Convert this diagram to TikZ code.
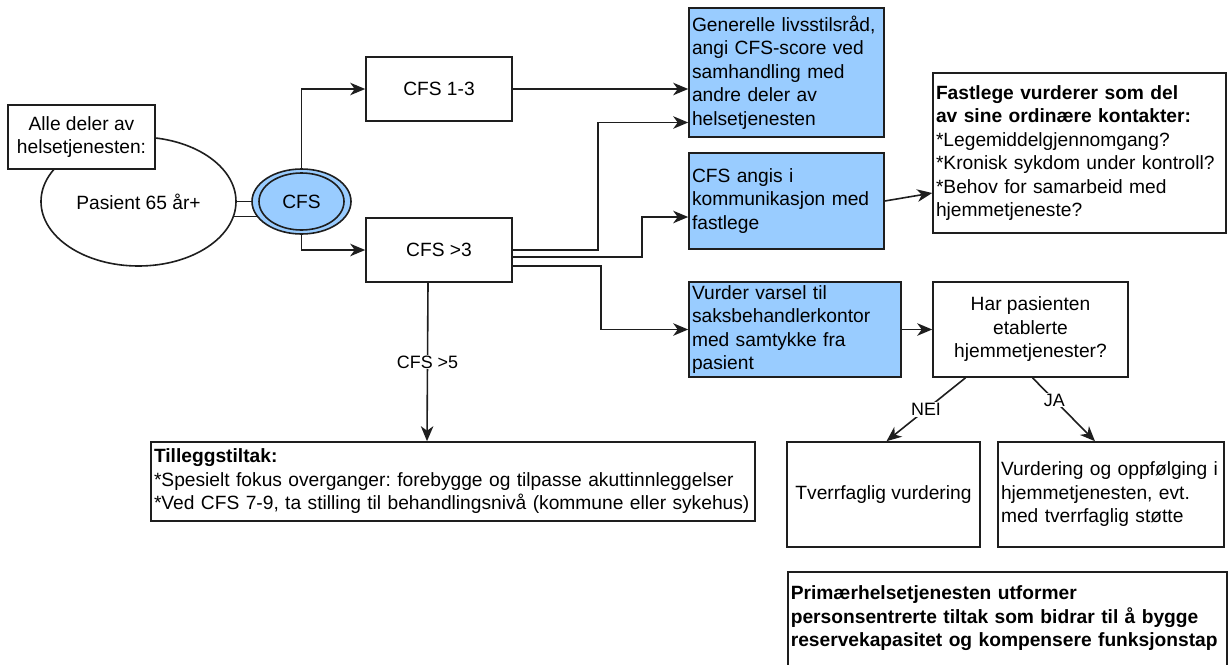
\documentclass[tikz,border=0pt]{standalone}
\usepackage{fontspec}
\setmainfont{Liberation Sans}
\usetikzlibrary{calc}
\usetikzlibrary{arrows.meta}
\usetikzlibrary{shapes.geometric}
\definecolor{cfsblue}{HTML}{99CCFF}
\definecolor{linegray}{HTML}{1E1E1E}
\tikzset{
	box/.style={draw=linegray,line width=1.6pt,fill=white,inner sep=0pt,align=center},
	textbox/.style={box,align=left,inner xsep=3pt},
	bluebox/.style={textbox,fill=cfsblue},
	flow/.style={draw=linegray,line width=1.6pt,-{Stealth[length=15pt,width=12.5pt,inset=4.5pt]}},
	lbl/.style={fill=white,inner sep=1pt,font=\fontsize{17.9}{21}\selectfont}
}

\begin{document}
\frenchspacing
\begin{tikzpicture}[x=1pt,y=-1pt,font=\fontsize{19.2}{23.5}\selectfont]
	\useasboundingbox (0,0) rectangle (1230,664);
	\clip (0,0) rectangle (1230,664);
	\coordinate (pasc) at (138.5,201.5);
	\coordinate (cfsc) at (301.5,201.5);
	% patient and the two CFS groups
	\node[box,ellipse,minimum width=195pt,minimum height=129pt] (pas) at (pasc) {Pasient 65 år+};
	\node[box,minimum width=147pt,minimum height=64pt] (alle) at (81.5,137) {Alle deler av\\helsetjenesten:};
	\node[box,minimum width=146pt,minimum height=64pt] (c13) at (439,89) {CFS 1-3};
	\node[box,minimum width=146pt,minimum height=64pt] (cgt3) at (439,250) {CFS >3};
	\draw[flow] (pas.east) -| (cfsc) |- (c13.west);
	\draw[flow] (pas.-9) -| (cfsc) |- (cgt3.west);
	\node[box,ellipse,fill=cfsblue,minimum width=99pt,minimum height=65pt] (cfs) at (cfsc) {CFS};
	\node[draw=linegray,line width=1.6pt,ellipse,minimum width=85pt,minimum height=57pt] (cfsin) at (cfsc) {};
	% measures
	\node[bluebox,text width=189pt,minimum height=129pt] (gen) at (786.5,72.5) {Generelle livsstilsråd,\\angi CFS-score ved\\samhandling med\\andre deler av\\helsetjenesten};
	\node[bluebox,text width=189pt,minimum height=96pt] (fcom) at (786.5,201) {CFS angis i\\kommunikasjon med\\fastlege};
	\node[bluebox,text width=206pt,minimum height=95pt] (varsel) at (795,329.5) {Vurder varsel til\\saksbehandlerkontor\\med samtykke fra\\pasient};
	\node[textbox,text width=287pt,minimum height=160pt] (fl) at (1079.5,153) {\textbf{Fastlege vurderer som del}\\\textbf{av sine ordinære kontakter:}\\{}*Legemiddelgjennomgang?\\{}*Kronisk sykdom under kontroll?\\{}*Behov for samarbeid med\\hjemmetjeneste?};
	\node[box,minimum width=195pt,minimum height=95pt] (har) at (1030.5,329.5) {Har pasienten\\etablerte\\hjemmetjenester?};
	\node[box,minimum width=193pt,minimum height=105pt] (tverr) at (883.5,494.5) {Tverrfaglig vurdering};
	\node[textbox,text width=220pt,minimum height=105pt] (vurd) at (1111,494.5) {Vurdering og oppfølging i\\hjemmetjenesten, evt.\\med tverrfaglig støtte};
	\node[textbox,text width=598pt,minimum height=79pt] (till) at (453,481.5) {\textbf{Tilleggstiltak:}\\{}*Spesielt fokus overganger: forebygge og tilpasse akuttinnleggelser\\{}*Ved CFS 7-9, ta stilling til behandlingsnivå (kommune eller sykehus)};
	\node[textbox,anchor=north west,text width=433pt,inner ysep=14pt,text depth=120pt] (prim) at (787,571) {\bfseries Primærhelsetjenesten utformer\\personsentrerte tiltak som bidrar til å bygge\\reservekapasitet og kompensere funksjonstap};
	% connectors
	\draw[flow] (c13.east) -- (c13.east -| gen.west);
	\draw[flow] (cgt3.east) -- ++(85,0) |- ($(gen.west)+(0,50)$);
	\draw[flow] ($(cgt3.east)+(0,7)$) -- ++(129,0) |- ($(fcom.west)+(0,16)$);
	\draw[flow] ($(cgt3.east)+(0,16)$) -- ++(88,0) |- (varsel.west);
	\draw[flow] (fcom.east) -- ($(fl.west)+(0,40)$);
	\draw[flow] (varsel.east) -- (har.west);
	\draw[flow] ($(har.south)+(-65,0)$) -- node[lbl] {NEI} ($(tverr.north)+(3,0)$);
	\draw[flow] ($(har.south)+(2,0)$) -- node[lbl,pos=0.35] {JA} ($(vurd.north)+(-16,0)$);
	\draw[flow] ($(cgt3.south)+(-11,0)$) -- node[lbl] {CFS >5} ($(till.north)+(-26,0)$);
\end{tikzpicture}
\end{document}
